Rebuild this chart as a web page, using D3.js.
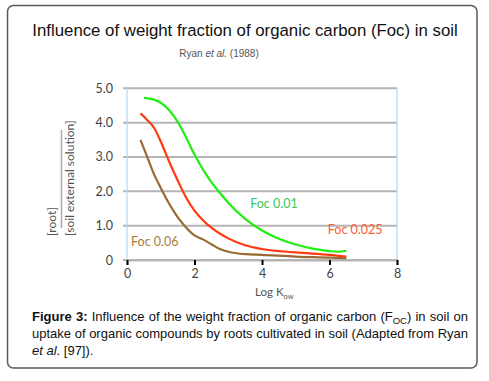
<!DOCTYPE html>
<html><head><meta charset="utf-8">
<script src="https://cdn.jsdelivr.net/npm/d3@7"></script>
<style>
body{margin:0;background:#fff;}
svg{display:block;}
</style></head>
<body>
<svg id="c" width="489" height="381"></svg>
<script>
// ---- data ----
const xTicks = [0, 2, 4, 6, 8];
const yTicks = [0, 1, 2, 3, 4, 5];
const yTickLabels = ["0", "1.0", "2.0", "3.0", "4.0", "5.0"];

const greenX = [0.5, 0.8, 1.0, 1.25, 1.5, 1.75, 2.0, 2.25, 2.5, 2.75, 3.0, 3.5, 4.0, 4.5, 5.0, 5.5, 6.0, 6.25, 6.5];
const greenY = [4.72, 4.67, 4.58, 4.36, 4.03, 3.57, 3.07, 2.64, 2.27, 1.96, 1.67, 1.2, 0.86, 0.62, 0.45, 0.33, 0.26, 0.24, 0.27];

const redX = [0.4, 0.6, 0.8, 1.0, 1.25, 1.5, 1.75, 2.0, 2.25, 2.5, 3.0, 3.5, 4.0, 5.0, 6.0, 6.5];
const redY = [4.27, 4.08, 3.85, 3.45, 2.86, 2.32, 1.82, 1.44, 1.16, 0.94, 0.63, 0.43, 0.32, 0.22, 0.15, 0.1];

const brownX = [0.4, 0.6, 0.8, 1.0, 1.25, 1.5, 1.75, 2.0, 2.25, 2.5, 2.75, 3.0, 3.5, 4.0, 5.0, 6.0, 6.5];
const brownY = [3.5, 3.0, 2.5, 2.1, 1.64, 1.25, 0.95, 0.72, 0.6, 0.46, 0.32, 0.24, 0.17, 0.15, 0.1, 0.07, 0.05];

const seriesNames = ["Foc 0.01", "Foc 0.025", "Foc 0.06"];
const titleText = "Influence of weight fraction of organic carbon (Foc) in soil";

// ---- drawing ----
const svg = d3.select("#c");
svg.append("rect").attr("x", 7.5).attr("y", 5.5).attr("width", 469.5).attr("height", 362.5)
  .attr("rx", 6).attr("fill", "#fff").attr("stroke", "#5a5a5a").attr("stroke-width", 1.5);

svg.append("text").attr("x", 245).attr("y", 36).attr("text-anchor", "middle")
  .style("font-family", "Liberation Sans, Arial, sans-serif").style("font-size", "16.8px").attr("fill", "#111")
  .text(titleText);

const sub = svg.append("text").attr("x", 219).attr("y", 57).attr("text-anchor", "middle")
  .style("font-family", "Liberation Sans, Arial, sans-serif").style("font-size", "10px").attr("fill", "#555");
sub.append("tspan").text("Ryan ");
sub.append("tspan").style("font-style", "italic").text("et al.");
sub.append("tspan").text(" (1988)");

const x = d3.scaleLinear().domain([0, 8]).range([127, 397]);
const y = d3.scaleLinear().domain([0, 5]).range([260, 88.3]);
const chartFont = "Lato, 'Open Sans', sans-serif";

// gridlines
svg.append("g").selectAll("line").data(yTicks).join("line")
  .attr("x1", x(0) - 4).attr("x2", x(8)).attr("y1", d => y(d)).attr("y2", d => y(d))
  .attr("stroke", "#b5b5b5").attr("stroke-width", 2);

// vertical light-blue edges
[0, 8].forEach(v => {
  svg.append("line").attr("x1", x(v)).attr("x2", x(v)).attr("y1", y(5)).attr("y2", y(0))
    .attr("stroke", "#b7d7ee").attr("stroke-width", 1.2);
});

// x axis
const xAxis = d3.axisBottom(x).tickValues(xTicks).tickSize(5).tickPadding(4).tickFormat(d3.format("d"));
const gx = svg.append("g").attr("transform", `translate(0,${y(0)})`).call(xAxis);
gx.select(".domain").attr("stroke", "#b5b5b5").attr("stroke-width", 2);
gx.selectAll(".tick line").attr("stroke", "#000").attr("stroke-width", 2);
gx.selectAll(".tick text").style("font-family", chartFont).style("font-size", "12.5px").attr("fill", "#444");

// y axis labels
const yAxis = d3.axisLeft(y).tickValues(yTicks).tickSize(0).tickPadding(14)
  .tickFormat((d, i) => yTickLabels[i]);
const gy = svg.append("g").attr("transform", `translate(${x(0)},0)`).call(yAxis);
gy.select(".domain").remove();
gy.selectAll(".tick text").style("font-family", chartFont).style("font-size", "12.5px").attr("fill", "#444");

// lines
const line = d3.line().x(d => x(d[0])).y(d => y(d[1])).curve(d3.curveMonotoneX);
const series = [
  {xs: greenX, ys: greenY, color: "#22ee11"},
  {xs: redX, ys: redY, color: "#ff3a0f"},
  {xs: brownX, ys: brownY, color: "#9a6a35"}
];
series.forEach(s => {
  svg.append("path").datum(s.xs.map((v, i) => [v, s.ys[i]]))
    .attr("d", line).attr("fill", "none").attr("stroke", s.color).attr("stroke-width", 2.2);
});

// series labels
const labels = [
  {t: seriesNames[0], lx: 3.65, ly: 1.52, c: "#3cc65a"},
  {t: seriesNames[1], lx: 5.95, ly: 0.76, c: "#ff5a33"},
  {t: seriesNames[2], lx: 0.12, ly: 0.42, c: "#a87c3a"}
];
labels.forEach(l => {
  svg.append("text").attr("x", x(l.lx)).attr("y", y(l.ly)).style("font-family", chartFont)
    .style("font-size", "12.5px").attr("fill", l.c).text(l.t);
});

// x axis title
const xt = svg.append("text").attr("x", 255).attr("y", 296).style("font-family", chartFont)
  .style("font-size", "11.5px").attr("fill", "#555");
xt.append("tspan").text("Log K");
xt.append("tspan").attr("dy", 3).style("font-size", "7.5px").text("ow");

// y axis title as a fraction
const yl = svg.append("g");
yl.append("text").attr("transform", "translate(56,236) rotate(-90)").style("font-family", chartFont)
  .style("font-size", "12px").attr("fill", "#555").text("[root]");
yl.append("line").attr("x1", 61.5).attr("x2", 61.5).attr("y1", 130).attr("y2", 228)
  .attr("stroke", "#aaa").attr("stroke-width", 1.5);
yl.append("text").attr("transform", "translate(74,236) rotate(-90)").style("font-family", chartFont)
  .style("font-size", "12px").attr("fill", "#555").text("[soil external solution]");

// caption, justified
const capFont = "Liberation Sans, Arial, sans-serif";
const capLines = [
  {y: 321, justify: true, words: [
    [{t: "Figure", b: true}], [{t: "3:", b: true}], [{t: "Influence"}], [{t: "of"}], [{t: "the"}], [{t: "weight"}],
    [{t: "fraction"}], [{t: "of"}], [{t: "organic"}], [{t: "carbon"}], [{t: "(F"}, {t: "OC", s: true}, {t: ")"}],
    [{t: "in"}], [{t: "soil"}], [{t: "on"}]]},
  {y: 338, justify: true, words: "uptake of organic compounds by roots cultivated in soil (Adapted from Ryan".split(" ").map(w => [{t: w}])},
  {y: 355, justify: false, words: [[{t: "et", i: true}], [{t: "al", i: true}, {t: ". [97])."}]]}
];
const capLeft = 32, capRight = 468;
capLines.forEach(L => {
  const els = L.words.map(parts => {
    const te = svg.append("text").attr("y", L.y).style("font-family", capFont).style("font-size", "13px").attr("fill", "#111");
    parts.forEach(p => {
      const ts = te.append("tspan").text(p.t);
      if (p.b) ts.style("font-weight", "bold");
      if (p.i) ts.style("font-style", "italic");
      if (p.s) ts.attr("dy", 3).style("font-size", "9.5px");
      else if (parts.length > 1 && parts.some(q => q.s)) ts.attr("dy", p.t === ")" ? -3 : 0);
    });
    return te;
  });
  const widths = els.map(e => e.node().getComputedTextLength());
  const total = d3.sum(widths);
  const space = L.justify ? (capRight - capLeft - total) / (els.length - 1) : 3.6;
  let cx = capLeft;
  els.forEach((e, i) => { e.attr("x", cx); cx += widths[i] + space; });
});
</script>
</body></html>
